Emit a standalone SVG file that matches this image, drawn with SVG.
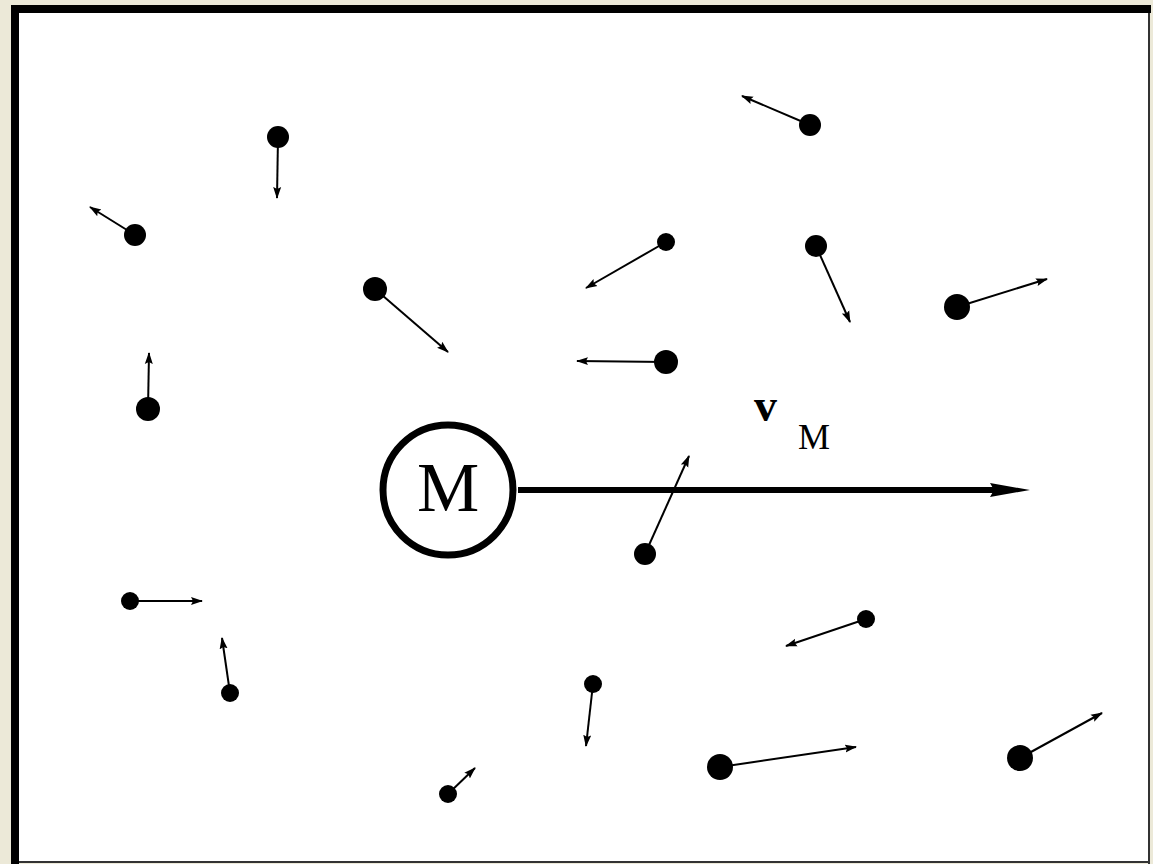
<svg xmlns="http://www.w3.org/2000/svg" width="1153" height="864" viewBox="0 0 1153 864">
<style>
.p{fill:#000}
.v{stroke:#000;stroke-width:2;fill:none;marker-end:url(#ah)}
.lbl{font-family:"Liberation Serif","Times New Roman",serif;fill:#000}
</style>
<defs>
<marker id="ah" viewBox="0 0 12 10" refX="11" refY="5" markerWidth="12" markerHeight="10" markerUnits="userSpaceOnUse" orient="auto">
<path d="M0,1 L12,5 L0,9 L2,5 Z" fill="#000"/>
</marker>
<marker id="big" viewBox="0 0 40 16" refX="6" refY="8" markerWidth="40" markerHeight="16" markerUnits="userSpaceOnUse" orient="auto">
<path d="M0,1 L40,8 L0,15 L4,8 Z" fill="#000"/>
</marker>
</defs>
<rect x="0" y="0" width="1153" height="864" fill="#ECE9D8"/>
<rect x="15" y="9" width="1134" height="853" fill="#fff"/>
<rect x="11" y="5" width="1140" height="8" fill="#000"/>
<rect x="11" y="5" width="8" height="859" fill="#000"/>
<rect x="1148" y="13" width="2" height="851" fill="#333"/>
<rect x="19" y="861" width="1131" height="2" fill="#333"/>

<g id="connectors">
<line class="v" x1="278" y1="137" x2="277" y2="198"/>
<line class="v" x1="135" y1="235" x2="90" y2="207"/>
<line class="v" x1="148" y1="409" x2="149" y2="353"/>
<line class="v" x1="375" y1="289" x2="448" y2="352"/>
<line class="v" x1="666" y1="242" x2="586" y2="288"/>
<line class="v" x1="666" y1="362" x2="577" y2="361"/>
<line class="v" x1="810" y1="125" x2="742" y2="96"/>
<line class="v" x1="816" y1="246" x2="850" y2="322"/>
<line class="v" x1="957" y1="307" x2="1047" y2="279"/>
<line class="v" x1="645" y1="554" x2="689" y2="456"/>
<line class="v" x1="130" y1="601" x2="202" y2="601"/>
<line class="v" x1="230" y1="693" x2="222" y2="638"/>
<line class="v" x1="593" y1="684" x2="586" y2="746"/>
<line class="v" x1="448" y1="794" x2="475" y2="768"/>
<line class="v" x1="866" y1="619" x2="786" y2="646"/>
<line class="v" x1="720" y1="767" x2="856" y2="747"/>
<line class="v" x1="1020" y1="758" x2="1102" y2="713"/>
<line x1="518" y1="490" x2="996" y2="490" stroke="#000" stroke-width="6" marker-end="url(#big)"/>
</g>

<g id="particles">
<circle class="p" cx="278" cy="137" r="11"/>
<circle class="p" cx="135" cy="235" r="11"/>
<circle class="p" cx="148" cy="409" r="12"/>
<circle class="p" cx="375" cy="289" r="12"/>
<circle class="p" cx="666" cy="242" r="9"/>
<circle class="p" cx="666" cy="362" r="12"/>
<circle class="p" cx="810" cy="125" r="11"/>
<circle class="p" cx="816" cy="246" r="11"/>
<circle class="p" cx="957" cy="307" r="13"/>
<circle class="p" cx="645" cy="554" r="11"/>
<circle class="p" cx="130" cy="601" r="9"/>
<circle class="p" cx="230" cy="693" r="9"/>
<circle class="p" cx="593" cy="684" r="9"/>
<circle class="p" cx="448" cy="794" r="9"/>
<circle class="p" cx="866" cy="619" r="9"/>
<circle class="p" cx="720" cy="767" r="13"/>
<circle class="p" cx="1020" cy="758" r="13"/>
</g>

<g id="M">
<circle cx="448" cy="490" r="65" fill="#fff" stroke="#000" stroke-width="7"/>
<text class="lbl" x="448" y="511" font-size="70" text-anchor="middle">M</text>
</g>

<g id="vM">
<text class="lbl" x="754" y="421" font-size="46" font-weight="bold">v</text>
<text class="lbl" x="798" y="449" font-size="36">M</text>
</g>
</svg>
